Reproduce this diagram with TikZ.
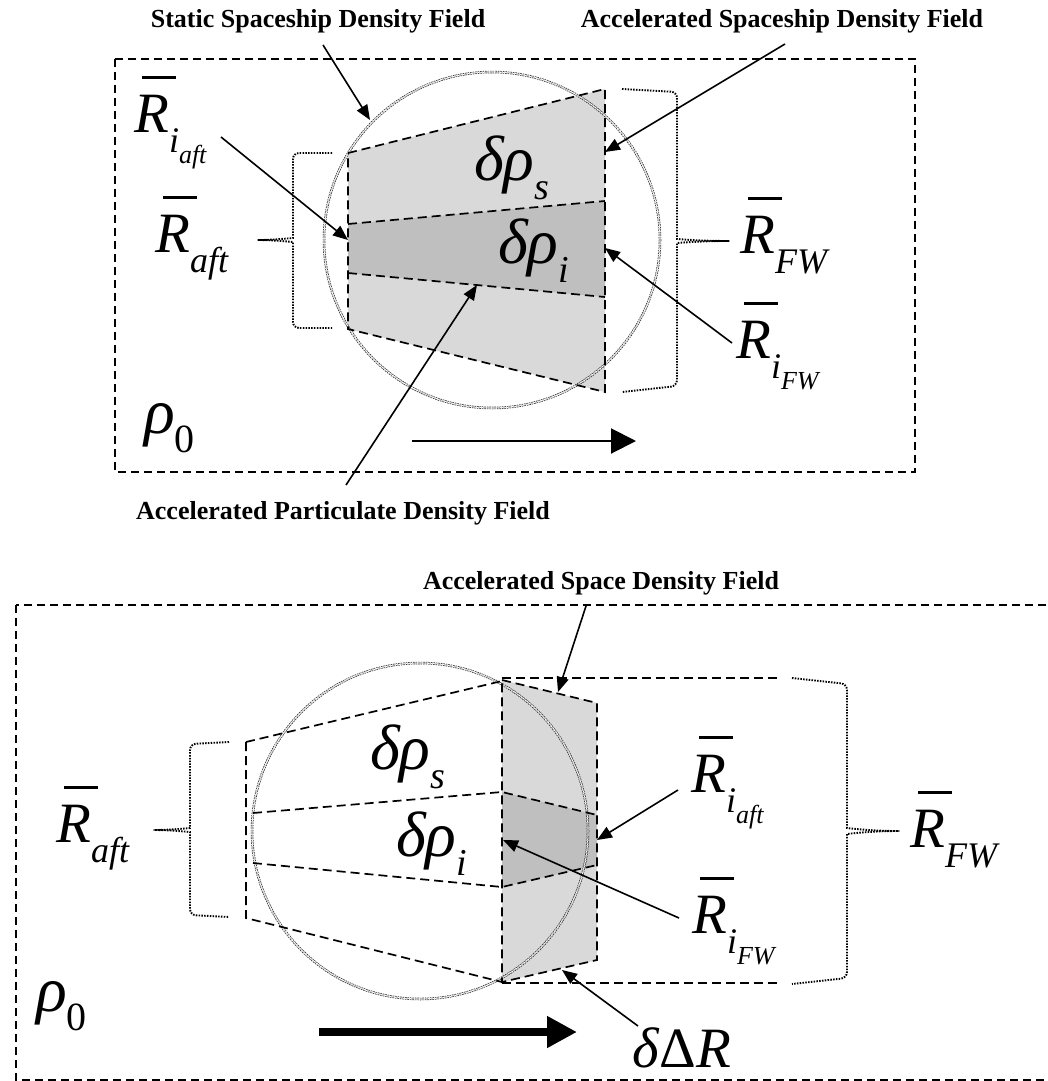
\documentclass[tikz,border=0pt]{standalone}
\usepackage{fontspec}
\setmainfont{Liberation Serif}
\usetikzlibrary{arrows.meta}
\newcommand{\Rb}{\makebox[0pt][l]{\hspace{0.14em}\rule[0.93em]{0.6em}{0.055em}}\textit{R}}
\newcommand{\sbA}[1]{\raisebox{-0.36em}{\fontsize{36}{36}\selectfont\textit{#1}}}
\newcommand{\sbB}[1]{\raisebox{-0.3em}{\fontsize{26}{26}\selectfont\textit{#1}}}
\newcommand{\sbG}[1]{\raisebox{-0.3em}{\fontsize{38}{38}\selectfont\textit{#1}}}
\newcommand{\sbZ}{\raisebox{-0.3em}{\fontsize{40}{40}\selectfont 0}}
\tikzset{
  big/.style={inner sep=0pt, anchor=base west, font=\fontsize{57}{60}\selectfont},
  grk/.style={inner sep=0pt, anchor=base west, font=\fontsize{64}{66}\selectfont},
  lbl/.style={inner sep=0pt, anchor=base, font=\fontsize{26}{30}\selectfont\bfseries},
  box/.style={draw, line width=1.7pt, dash pattern=on 8pt off 5pt},
  edge/.style={draw, line width=1.7pt, dash pattern=on 9pt off 5pt},
  brace/.style={draw, line width=1.9pt, dash pattern=on 1.5pt off 1.3pt, rounded corners=6pt},
  ring/.style={draw=black!85, line width=0.7pt, double=white, double distance=1.1pt, dash pattern=on 1.5pt off 1pt},
  ptr/.style={draw, line width=1.6pt, -{Triangle[length=15pt,width=12pt]}},
  light/.style={fill=black!15},
  dark/.style={fill=black!25},
}
\begin{document}
\begin{tikzpicture}[x=1pt,y=-1pt]
\clip (0,0) rectangle (1048,1081);
\fill[white] (0,0) rectangle (1048,1081);

%%%%%%%%%%%%%%%% TOP DIAGRAM %%%%%%%%%%%%%%%%
\draw[box] (115,59) rectangle (915,472);
% shading
\path[light] (348,153) -- (605,89) -- (605,392) -- (348,329) -- cycle;
\path[dark] (348,224) -- (605,201) -- (605,297) -- (348,273) -- cycle;
% circle
\draw[ring] (492,240) circle[radius=168];
% dashed outlines
\draw[edge] (348,153) -- (605,89) -- (605,392) -- (348,329) -- cycle;
\draw[edge] (348,224) -- (605,201);
\draw[edge] (348,273) -- (605,297);
% braces
\draw[brace] (332,153) -- (293,153) -- (293,232) .. controls (293,238) and (272,240) .. (254,240)
  .. controls (272,240) and (293,242) .. (293,248) -- (293,328) -- (332,328);
\draw[brace] (622,89) -- (677,92) -- (677,233) .. controls (677,239) and (700,241) .. (733,241)
  .. controls (700,241) and (677,243) .. (677,249) -- (677,386) -- (622,392);
% labels
\node[lbl] (l1) at (318,28) {Static Spaceship Density Field};
\node[lbl] (l2) at (782,28) {Accelerated Spaceship Density Field};
\node[lbl] (l3) at (343,519) {Accelerated Particulate Density Field};
\node[big] (riaft1) at (134,132) {\Rb\sbA{i\sbB{aft}}};
\node[big] (raft1) at (155,252) {\Rb\sbA{aft}};
\node[big] (rfw1) at (740,253) {\Rb\sbA{FW}};
\node[big] (rifw1) at (736,358) {\Rb\sbA{i\sbB{FW}}};
\node[grk] (dps1) at (474,180) {\textit{δρ}\sbG{s}};
\node[grk] (dpi1) at (498,263) {\textit{δρ}\sbG{i}};
\node[grk] (rho1) at (144,433) {\textit{ρ}\sbZ};
% pointer coordinates
\coordinate (a1s) at (323,45);  \coordinate (a1t) at (370,120);
\coordinate (a2s) at (785,44);  \coordinate (a2t) at (605,152);
\coordinate (a3s) at (221,137); \coordinate (a3t) at (348,240);
\coordinate (a4s) at (732,343); \coordinate (a4t) at (605,248);
\coordinate (a5s) at (346,485); \coordinate (a5t) at (477,285);
\coordinate (m1s) at (412,441); \coordinate (m1t) at (636,441);
\draw[ptr] (a1s) -- (a1t);
\draw[ptr] (a2s) -- (a2t);
\draw[ptr] (a3s) -- (a3t);
\draw[ptr] (a4s) -- (a4t);
\draw[ptr] (a5s) -- (a5t);
\draw[line width=2pt, -{Triangle[length=25pt,width=25pt]}] (m1s) -- (m1t);

%%%%%%%%%%%%%%%% BOTTOM DIAGRAM %%%%%%%%%%%%%%%%
\draw[box] (16,605) rectangle (1070,1080);
\path[light] (502,680) -- (597,703) -- (597,960) -- (502,982) -- cycle;
\path[dark] (502,792) -- (597,815) -- (597,865) -- (502,887) -- cycle;
\draw[ring] (420,831) circle[radius=168];
\draw[edge] (246,742) -- (502,681);
\draw[edge] (246,742) -- (246,918) -- (502,982);
\draw[edge] (253,813) -- (502,792) -- (597,815);
\draw[edge] (253,863) -- (502,887) -- (597,865);
\draw[edge] (502,680) -- (597,703) -- (597,960) -- (502,982) -- cycle;
\draw[edge] (502,678) -- (780,678);
\draw[edge] (502,983) -- (780,983);
\draw[brace] (229,742) -- (190,744) -- (190,822) .. controls (190,828) and (170,830) .. (150,830)
  .. controls (170,830) and (190,832) .. (190,838) -- (190,915) -- (229,917);
\draw[brace] (792,678) -- (847,684) -- (847,822) .. controls (847,828) and (870,831) .. (903,831)
  .. controls (870,831) and (847,834) .. (847,840) -- (847,978) -- (792,984);
\node[lbl] (l4) at (601,589) {Accelerated Space Density Field};
\node[grk] (dps2) at (370,769) {\textit{δρ}\sbG{s}};
\node[grk] (dpi2) at (396,856) {\textit{δρ}\sbG{i}};
\node[big] (riaft2) at (691,792) {\Rb\sbA{i\sbB{aft}}};
\node[big] (rifw2) at (692,933) {\Rb\sbA{i\sbB{FW}}};
\node[big] (rfw2) at (910,847) {\Rb\sbA{FW}};
\node[big] (raft2) at (56,842) {\Rb\sbA{aft}};
\node[grk] (rho2) at (36,1011) {\textit{ρ}\sbZ};
\node[big] (ddr) at (632,1067) {\textit{δ}Δ\textit{R}};
\coordinate (b1s) at (586,606); \coordinate (b1t) at (558,692);
\coordinate (b2s) at (678,790); \coordinate (b2t) at (597,840);
\coordinate (b3s) at (679,918); \coordinate (b3t) at (503,840);
\coordinate (b4s) at (638,1026); \coordinate (b4t) at (562,970);
\coordinate (m2s) at (319,1032); \coordinate (m2t) at (577,1032);
\draw[ptr] (b1s) -- (b1t);
\draw[ptr] (b2s) -- (b2t);
\draw[ptr] (b3s) -- (b3t);
\draw[ptr] (b4s) -- (b4t);
\draw[line width=8pt, -{Triangle[length=30pt,width=30pt]}] (m2s) -- (m2t);
\end{tikzpicture}
\end{document}
